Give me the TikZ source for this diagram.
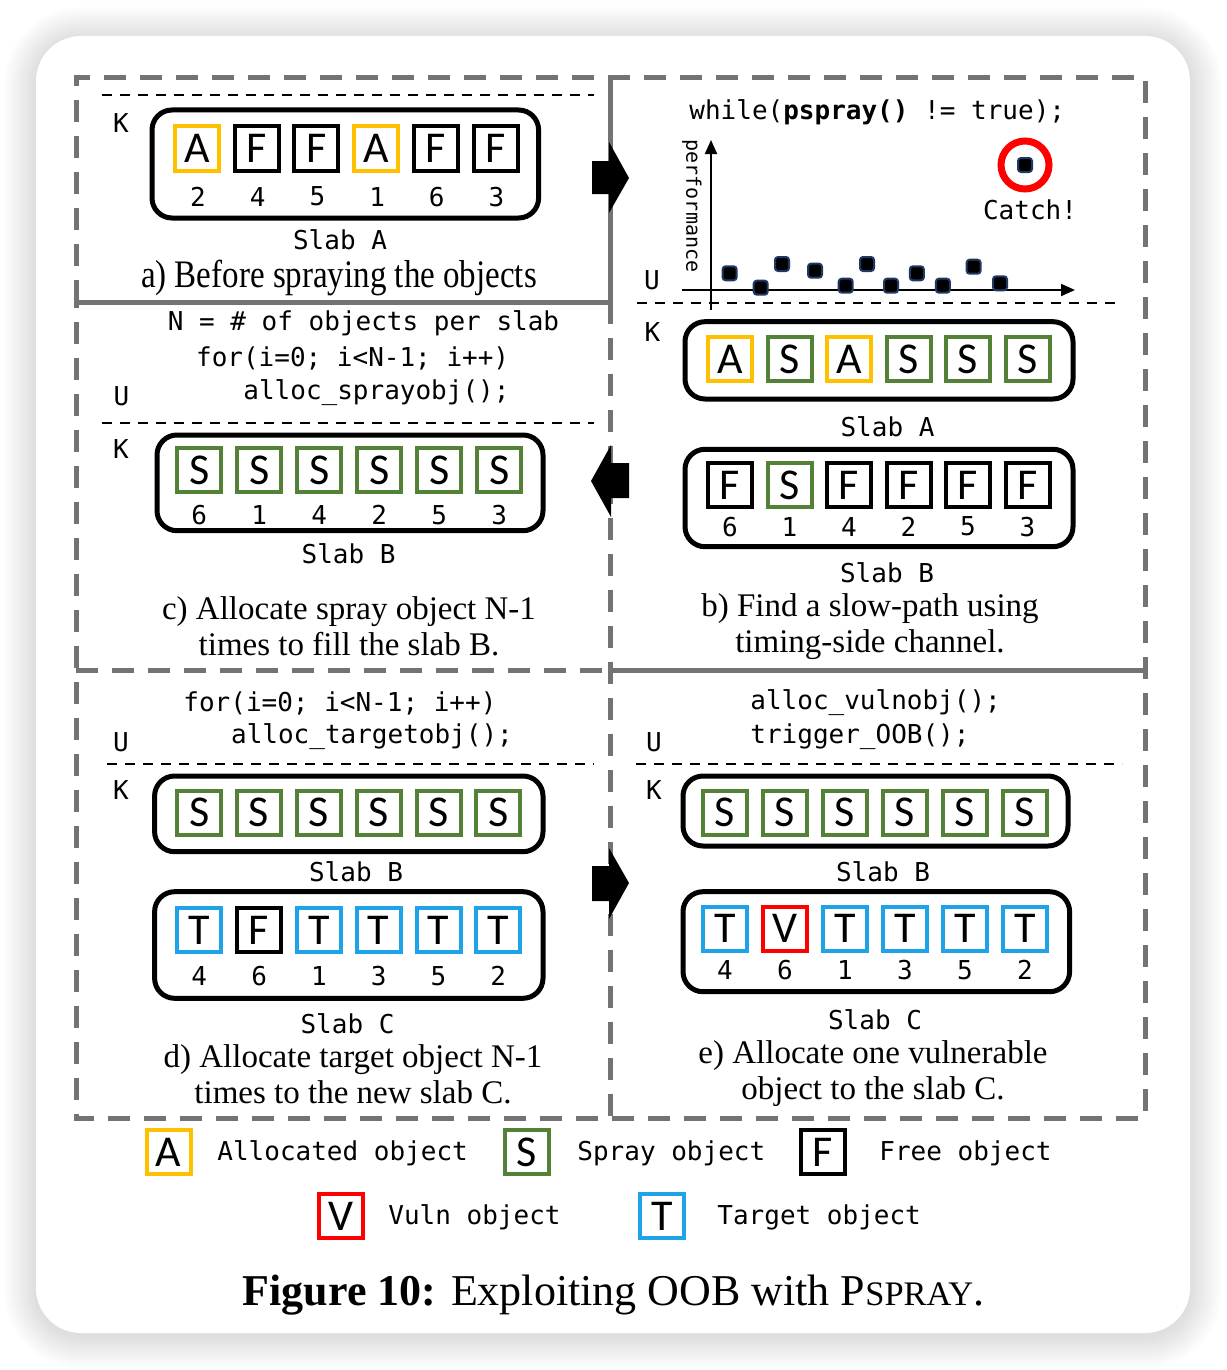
\documentclass[tikz,border=0pt]{standalone}
\usepackage{graphicx}
\usepackage{fontspec}
\setmainfont{Liberation Serif}
\newfontfamily\codefont{DejaVu Sans Mono}
\newfontfamily\boxfont{Carlito}
\usetikzlibrary{arrows.meta}
\definecolor{framegray}{HTML}{737373}
\definecolor{objA}{HTML}{FFC000}
\definecolor{objS}{HTML}{538135}
\definecolor{objT}{HTML}{1FA3E8}
\definecolor{objV}{HTML}{FF0000}
\definecolor{dotblue}{HTML}{1F3864}

\tikzset{
  obj/.style={draw, line width=2pt, minimum size=22pt, inner sep=0pt, font=\boxfont\fontsize{22}{22}\selectfont},
  alloc/.style={obj, draw=objA},
  spray/.style={obj, draw=objS},
  free/.style={obj, draw=black},
  vuln/.style={obj, draw=objV},
  target/.style={obj, draw=objT},
}

\begin{document}
\begin{tikzpicture}[x=0.5pt, y=-0.5pt,
    code/.style={font=\codefont\fontsize{13}{15}\selectfont, inner sep=0pt},
    num/.style={code},
    slab/.style={draw, line width=2.5pt, rounded corners=10pt},
    ukline/.style={line width=1pt, dash pattern=on 5pt off 4pt},
    panelframe/.style={draw=framegray, line width=2.5pt, dash pattern=on 11pt off 7pt},
    panelsolid/.style={draw=framegray, line width=2.5pt},
    captxt/.style={font=\fontsize{16.5}{18}\selectfont, align=center, inner sep=0pt},
    sample/.style={fill=black, draw=dotblue, line width=1pt, minimum size=7pt, inner sep=0pt, rounded corners=1.5pt},
    axis/.style={line width=1pt, -{Triangle[length=7pt,width=6pt]}}]
  \useasboundingbox (0,0) rectangle (1226,1370);
  \fill[white] (0,0) rectangle (1226,1370);
  \foreach \r in {1,...,16}
    \fill[black, opacity=0.009, rounded corners={(22.5+\r)*1pt}] ({36-2*\r},{39-2*\r}) rectangle ({1190+2*\r},{1336+2*\r});
  \fill[white, rounded corners=22.5pt] (36,36) rectangle (1190,1333);

  % panel frames
  \draw[panelframe] (76,302) -- (76,78) -- (1145,78) -- (1145,1118) -- (76,1118) -- (76,302);
  \draw[panelsolid] (610,78) -- (610,302);
  \draw[panelsolid] (76,302) -- (610,302);
  \draw[panelframe] (610,302) -- (610,1118);
  \draw[panelframe] (76,670) -- (610,670);
  \draw[panelsolid] (610,670) -- (1145,670);

  % a)
  \draw[ukline] (102,95) -- (594,95);
  \node[code] (ka) at (121,122.7) {K};
  \draw[slab] (152,110) rectangle (538.6,218);
  \foreach \t/\s/\n [count=\i] in {A/alloc/2,F/free/4,F/free/5,A/alloc/1,F/free/6,F/free/3} {
    \node[\s] (a\i) at ({197+59.7*(\i-1)},148.5) {\t};
    \node[num] (an\i) at ({198+59.7*(\i-1)},196.7) {\n};
  }
  \node[code] (slaba) at (340,240) {Slab A};
  \node[captxt] (capa) at (339,278) {\scalebox{1}[1.18]{a) Before spraying the objects}};

  % b)
  \node[code, anchor=west] (whileb) at (689,112) {while(\textbf{pspray()} != true);};
  \coordinate (ybot) at (711,310);
  \coordinate (ytop) at (711,140);
  \coordinate (xleft) at (682,290);
  \coordinate (xright) at (1075,290);
  \draw[axis] (ybot) -- (ytop);
  \draw[axis] (xleft) -- (xright);
  \node[code, rotate=-90, font=\codefont\fontsize{10}{12}\selectfont] (perf) at (692,206) {performance};
  \foreach \px/\py [count=\i] in {729.6/273.3,760.7/287.7,782/264,815/270.7,845.7/285.7,867/264,891/285.7,916.8/273.3,942.9/285.7,973.6/266.7,1000/283.3}
    \node[sample] (pt\i) at (\px,\py) {};
  \node[sample] (caught) at (1025,165) {};
  \node[circle, draw=objV, line width=3.5pt, minimum size=24pt] (ring) at (caught) {};
  \node[code] (catch) at (1030,210) {Catch!};
  \node[code] (ub) at (652,280) {U};
  \draw[ukline] (637,303) -- (1121,303);
  \node[code] (kb) at (652.5,331.7) {K};
  \draw[slab] (685,321.7) rectangle (1073,399);
  \foreach \t/\s [count=\i] in {A/alloc,S/spray,A/alloc,S/spray,S/spray,S/spray}
    \node[\s] (ba\i) at ({730+59.5*(\i-1)},359) {\t};
  \node[code] (slabba) at (887.5,426.7) {Slab A};
  \draw[slab] (685,449.3) rectangle (1073,546.7);
  \foreach \t/\s/\n [count=\i] in {F/free/6,S/spray/1,F/free/4,F/free/2,F/free/5,F/free/3} {
    \node[\s] (bb\i) at ({730+59.5*(\i-1)},485) {\t};
    \node[num] (bn\i) at ({730+59.5*(\i-1)},526.7) {\n};
  }
  \node[code] (slabbb) at (887,572.7) {Slab B};
  \node[captxt] (capb) at (870,626.5) {b) Find a slow-path using\\timing-side channel.};

  % c)
  \node[code] (nc) at (363.5,323) {N = \# of objects per slab};
  \node[code, anchor=west] (forc) at (195.7,358) {for(i=0; i<N-1; i++)};
  \node[code, anchor=west] (allocc) at (243,393) {alloc\_sprayobj();};
  \node[code] (uc) at (121.4,396) {U};
  \draw[ukline] (102,422.7) -- (594,422.7);
  \node[code] (kc) at (121,449) {K};
  \draw[slab] (157,435) rectangle (543,530.7);
  \foreach \n [count=\i] in {6,1,4,2,5,3} {
    \node[spray] (c\i) at ({199.3+60*(\i-1)},470) {S};
    \node[num] (cn\i) at ({199.3+60*(\i-1)},515) {\n};
  }
  \node[code] (slabc) at (348.6,554) {Slab B};
  \node[captxt] (capc) at (349,626.5) {c) Allocate spray object N-1\\times to fill the slab B.};

  % d)
  \node[code, anchor=west] (ford) at (183,703) {for(i=0; i<N-1; i++)};
  \node[code, anchor=west] (allocd) at (230.7,737) {alloc\_targetobj();};
  \node[code] (ud) at (121,741.7) {U};
  \draw[ukline] (107,764) -- (594,764);
  \node[code] (kd) at (121,790) {K};
  \draw[slab] (154.6,776) rectangle (543,851.7);
  \foreach \i in {1,...,6}
    \node[spray] (db\i) at ({199.3+59.8*(\i-1)},812.8) {S};
  \node[code] (slabdb) at (356,871.7) {Slab B};
  \draw[slab] (154.6,891.7) rectangle (543,998.3);
  \foreach \t/\s/\n [count=\i] in {T/target/4,F/free/6,T/target/1,T/target/3,T/target/5,T/target/2} {
    \node[\s] (dc\i) at ({199.3+59.8*(\i-1)},930) {\t};
    \node[num] (dn\i) at ({199.3+59.8*(\i-1)},976) {\n};
  }
  \node[code] (slabdc) at (347.5,1024) {Slab C};
  \node[captxt] (capd) at (353,1074) {d) Allocate target object N-1\\times to the new slab C.};

  % e)
  \node[code, anchor=west] (alloce) at (750,703) {alloc\_vulnobj();};
  \node[code, anchor=west] (trige) at (750,737) {trigger\_OOB();};
  \node[code] (ue) at (654,741.7) {U};
  \draw[ukline] (636,764) -- (1122,764);
  \node[code] (ke) at (654,790) {K};
  \draw[slab] (683,776) rectangle (1068,846);
  \foreach \i in {1,...,6}
    \node[spray] (eb\i) at ({725+60*(\i-1)},812.8) {S};
  \node[code] (slabeb) at (883,871.7) {Slab B};
  \draw[slab] (683,891.7) rectangle (1069.6,991.7);
  \foreach \t/\s/\n [count=\i] in {T/target/4,V/vuln/6,T/target/1,T/target/3,T/target/5,T/target/2} {
    \node[\s] (ec\i) at ({725+60*(\i-1)},928.7) {\t};
    \node[num] (en\i) at ({725+60*(\i-1)},970) {\n};
  }
  \node[code] (slabec) at (875,1020) {Slab C};
  \node[captxt] (cape) at (873,1074) {e) Allocate one vulnerable\\object to the slab C.};

  % step arrows
  \fill (592,161) -- (609,161) -- (609,142) -- (629,178) -- (609,213) -- (609,194) -- (592,194) -- cycle;
  \fill (629,463) -- (611,463) -- (611,445) -- (591,481) -- (611,517) -- (611,498) -- (629,498) -- cycle;
  \fill (592,866) -- (609,866) -- (609,848) -- (629,883) -- (609,919) -- (609,901) -- (592,901) -- cycle;

  % legend
  \node[alloc] (lga) at (168.5,1152) {A};
  \node[code, anchor=west] (lgat) at (217,1153) {Allocated object};
  \node[spray] (lgs) at (527,1152) {S};
  \node[code, anchor=west] (lgst) at (577,1153) {Spray object};
  \node[free] (lgf) at (823,1152) {F};
  \node[code, anchor=west] (lgft) at (879,1153) {Free object};
  \node[vuln] (lgv) at (341,1216) {V};
  \node[code, anchor=west] (lgvt) at (388,1217) {Vuln object};
  \node[target] (lgt) at (662,1216) {T};
  \node[code, anchor=west] (lgtt) at (717,1217) {Target object};

  \node[font=\fontsize{22}{24}\selectfont, inner sep=0pt] (figcap) at (613.5,1295) {\textbf{Figure 10:} Exploiting OOB with P{\fontsize{17.2}{20}\selectfont SPRAY}.};
\end{tikzpicture}
\end{document}
